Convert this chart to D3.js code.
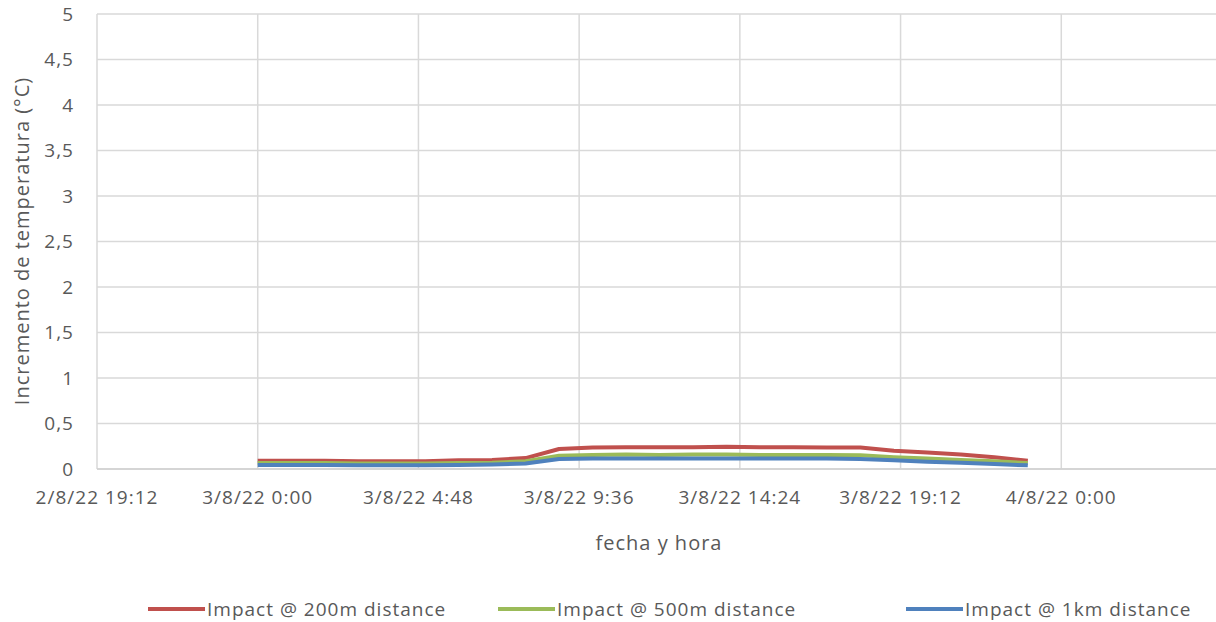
<!DOCTYPE html>
<html>
<head>
<meta charset="utf-8">
<script src="https://cdn.jsdelivr.net/npm/d3@7"></script>
<style>
  body { margin: 0; background: #fff; }
  text { font-family: "Open Sans", "Noto Sans", sans-serif; fill: #595959; letter-spacing: 1px; }
</style>
</head>
<body>
<svg id="chart"></svg>
<script>
// hours after 3/8/22 0:00
var hours = d3.range(0, 24);
var impact200 = [0.09, 0.09, 0.09, 0.085, 0.085, 0.085, 0.095, 0.10, 0.12, 0.22, 0.235, 0.24,
                 0.24, 0.24, 0.245, 0.24, 0.24, 0.235, 0.235, 0.20, 0.18, 0.16, 0.13, 0.09];
var impact500 = [0.065, 0.065, 0.065, 0.06, 0.06, 0.06, 0.065, 0.07, 0.085, 0.145, 0.155, 0.16,
                 0.155, 0.16, 0.16, 0.155, 0.155, 0.155, 0.15, 0.13, 0.115, 0.10, 0.085, 0.065];
var impact1k = [0.045, 0.045, 0.045, 0.04, 0.04, 0.04, 0.045, 0.05, 0.06, 0.11, 0.115, 0.115,
                0.115, 0.115, 0.115, 0.115, 0.115, 0.115, 0.11, 0.095, 0.08, 0.07, 0.055, 0.04];
var seriesNames = ['Impact @ 200m distance', 'Impact @ 500m distance', 'Impact @ 1km distance'];
var xTickLabels = ['2/8/22 19:12', '3/8/22 0:00', '3/8/22 4:48', '3/8/22 9:36',
                   '3/8/22 14:24', '3/8/22 19:12', '4/8/22 0:00'];
var yTicks = [0, 0.5, 1, 1.5, 2, 2.5, 3, 3.5, 4, 4.5, 5];

var width = 1216, height = 622;
var svg = d3.select('#chart').attr('width', width).attr('height', height);

var plotLeft = 97, plotTop = 14, plotBottom = 469;

var xScale = d3.scaleLinear().domain([-4.8, 28.8]).range([plotLeft, 1222]);
var yScale = d3.scaleLinear().domain([0, 5]).range([plotBottom, plotTop]);

var colors = ['#c0504d', '#9bbb59', '#4f81bd'];
var series = [impact200, impact500, impact1k];

// grid
svg.append('g').selectAll('line').data(yTicks).enter().append('line')
  .attr('x1', plotLeft).attr('x2', width)
  .attr('y1', function(d) { return yScale(d); })
  .attr('y2', function(d) { return yScale(d); })
  .attr('stroke', '#d9d9d9').attr('stroke-width', 1.5);

var xTickVals = xTickLabels.map(function(d, i) { return -4.8 + i * 4.8; });
svg.append('g').selectAll('line').data(xTickVals.slice(1)).enter().append('line')
  .attr('x1', function(d) { return xScale(d); })
  .attr('x2', function(d) { return xScale(d); })
  .attr('y1', plotTop).attr('y2', plotBottom)
  .attr('stroke', '#d9d9d9').attr('stroke-width', 1.5);

// axis lines
svg.append('line').attr('x1', plotLeft).attr('x2', plotLeft).attr('y1', plotTop).attr('y2', plotBottom)
  .attr('stroke', '#d9d9d9').attr('stroke-width', 1.5);
svg.append('line').attr('x1', plotLeft).attr('x2', width).attr('y1', plotBottom).attr('y2', plotBottom)
  .attr('stroke', '#d0d0d0').attr('stroke-width', 1.5);

// y tick labels
svg.append('g').selectAll('text').data(yTicks).enter().append('text')
  .attr('x', 74).attr('y', function(d) { return yScale(d); })
  .attr('dy', '0.35em').attr('text-anchor', 'end')
  .style('font-size', '19px')
  .text(function(d) { return String(d).replace('.', ','); });

// x tick labels
svg.append('g').selectAll('text').data(xTickLabels).enter().append('text')
  .attr('x', function(d, i) { return xScale(xTickVals[i]); })
  .attr('y', 497).attr('dy', '0.35em').attr('text-anchor', 'middle')
  .style('font-size', '19px')
  .text(function(d) { return d; });

// axis titles
svg.append('text').attr('x', 659).attr('y', 543).attr('dy', '0.35em')
  .attr('text-anchor', 'middle').style('font-size', '20px').text('fecha y hora');
svg.append('text').attr('transform', 'translate(22,241) rotate(-90)')
  .attr('dy', '0.35em').attr('text-anchor', 'middle').style('font-size', '20px')
  .text('Incremento de temperatura (°C)');

// lines
var line = d3.line()
  .x(function(d, i) { return xScale(hours[i]); })
  .y(function(d) { return yScale(d); });

svg.append('g').selectAll('path').data(series).enter().append('path')
  .attr('d', line)
  .attr('fill', 'none')
  .attr('stroke', function(d, i) { return colors[i]; })
  .attr('stroke-width', 4)
  .attr('stroke-linejoin', 'round');

// legend
var legendX = [148, 498, 906];
var legend = svg.append('g').selectAll('g').data(seriesNames).enter().append('g')
  .attr('transform', function(d, i) { return 'translate(' + legendX[i] + ',609)'; });
legend.append('line').attr('x1', 0).attr('x2', 57).attr('y1', 0).attr('y2', 0)
  .attr('stroke', function(d, i) { return colors[i]; }).attr('stroke-width', 4);
legend.append('text').attr('x', 59).attr('dy', '0.35em').style('font-size', '19px')
  .text(function(d) { return d; });
</script>
</body>
</html>
